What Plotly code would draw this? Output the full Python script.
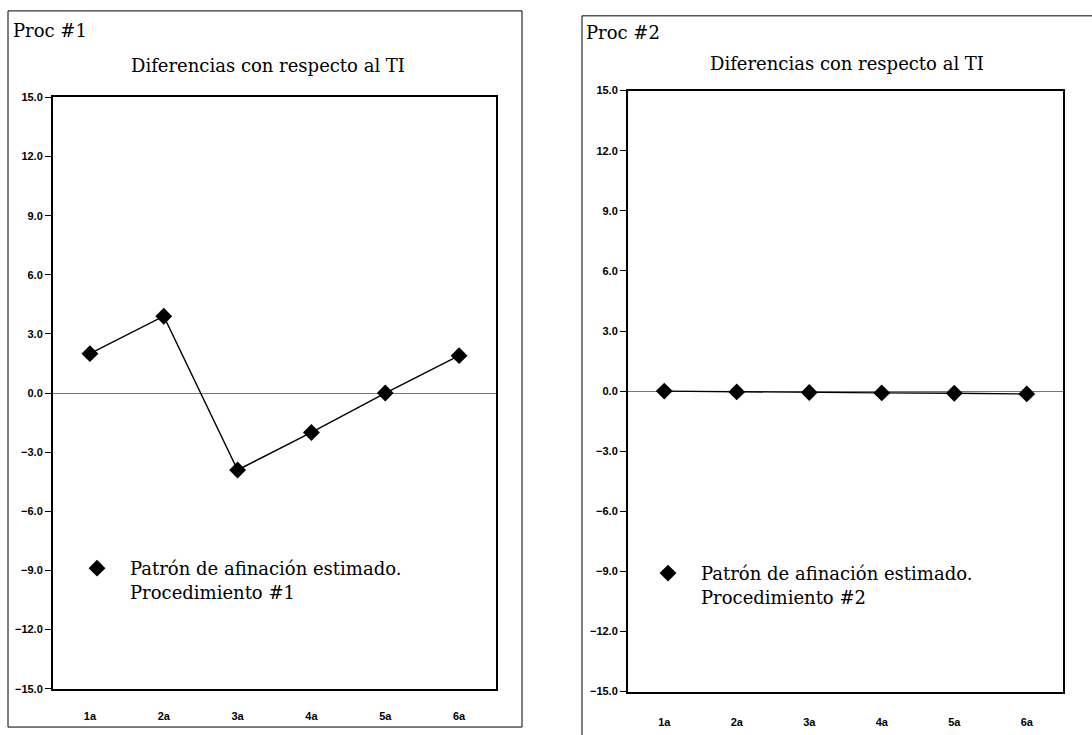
import plotly.graph_objects as go

categories = ["1a", "2a", "3a", "4a", "5a", "6a"]
proc1 = [2.0, 3.9, -3.9, -2.0, 0.0, 1.9]
proc2 = [0.0, -0.04, -0.07, -0.09, -0.11, -0.14]
ytick_vals = [15, 12, 9, 6, 3, 0, -3, -6, -9, -12, -15]
panel_titles = ["Proc #1", "Proc #2"]
chart_title = "Diferencias con respecto al TI"
legend_names = ["Patrón de afinación estimado.<br>Procedimiento #1",
                "Patrón de afinación estimado.<br>Procedimiento #2"]

W, H = 1092, 735
SERIF = "DejaVu Serif"
SANS = "Liberation Sans"

fig = go.Figure()

def px(x):
    return x / W

def py(y):
    return 1 - y / H

# Panel 1 traces
fig.add_trace(go.Scatter(x=categories, y=proc1, mode="lines", line=dict(color="black", width=1.4),
                         showlegend=False, xaxis="x", yaxis="y", hoverinfo="skip"))
fig.add_trace(go.Scatter(x=categories, y=proc1, mode="markers", name=legend_names[0],
                         marker=dict(symbol="diamond", size=13, color="black"),
                         xaxis="x", yaxis="y", legend="legend"))
# Panel 2 traces
fig.add_trace(go.Scatter(x=categories, y=proc2, mode="lines", line=dict(color="black", width=1.4),
                         showlegend=False, xaxis="x2", yaxis="y2", hoverinfo="skip"))
fig.add_trace(go.Scatter(x=categories, y=proc2, mode="markers", name=legend_names[1],
                         marker=dict(symbol="diamond", size=13, color="black"),
                         xaxis="x2", yaxis="y2", legend="legend2"))

def yaxis_cfg(top, bottom, anchor):
    return dict(domain=[py(bottom), py(top)], range=[-15, 15], anchor=anchor,
                tickvals=ytick_vals, tickformat=".1f",
                ticks="outside", ticklen=6, tickcolor="black", tickwidth=1,
                showline=True, linecolor="black", linewidth=2, mirror=True,
                showgrid=False, zeroline=True, zerolinecolor="#777777", zerolinewidth=1,
                tickfont=dict(family=SANS, size=11, color="black", weight="bold"))

def xaxis_cfg(left, right, anchor, standoff):
    return dict(domain=[px(left), px(right)], range=[-0.5, 5.5], anchor=anchor,
                type="category", categoryorder="array", categoryarray=categories,
                showline=True, linecolor="black", linewidth=2, mirror=True,
                showgrid=False, ticks="", ticklabelstandoff=standoff,
                tickfont=dict(family=SANS, size=11, color="black", weight="bold"))

legend_font = dict(family=SERIF, size=18, color="black")

fig.update_layout(
    width=W, height=H,
    margin=dict(l=0, r=0, t=0, b=0),
    paper_bgcolor="white", plot_bgcolor="white",
    xaxis=xaxis_cfg(53, 496, "y", 16),
    yaxis=yaxis_cfg(93, 694, "x"),
    xaxis2=xaxis_cfg(628, 1063, "y2", 19),
    yaxis2=yaxis_cfg(86, 697, "x2"),
    legend=dict(x=px(64), y=py(553), xanchor="left", yanchor="top",
                font=legend_font, bgcolor="rgba(0,0,0,0)", valign="top", itemwidth=56),
    legend2=dict(x=px(635), y=py(558), xanchor="left", yanchor="top",
                 font=legend_font, bgcolor="rgba(0,0,0,0)", valign="top", itemwidth=56),
    showlegend=True,
)

# Outer panel borders
fig.add_shape(type="rect", xref="paper", yref="paper",
              x0=px(8), x1=px(522), y0=py(733), y1=py(5),
              line=dict(color="black", width=1))
fig.add_shape(type="rect", xref="paper", yref="paper",
              x0=px(582), x1=px(1110), y0=py(780), y1=py(10),
              line=dict(color="black", width=1))

title_font = dict(family=SERIF, size=18, color="black")
# Panel titles and chart titles
fig.add_annotation(x=px(11), y=py(25), xref="paper", yref="paper", text=panel_titles[0],
                   showarrow=False, xanchor="left", yanchor="middle", font=title_font)
fig.add_annotation(x=px(584), y=py(27), xref="paper", yref="paper", text=panel_titles[1],
                   showarrow=False, xanchor="left", yanchor="middle", font=title_font)
fig.add_annotation(x=px(268), y=py(60), xref="paper", yref="paper", text=chart_title,
                   showarrow=False, xanchor="center", yanchor="middle", font=title_font)
fig.add_annotation(x=px(847), y=py(58), xref="paper", yref="paper", text=chart_title,
                   showarrow=False, xanchor="center", yanchor="middle", font=title_font)

fig.write_html("out.html", config={"displayModeBar": False},
               post_script="document.body.style.margin='0';document.body.style.overflow='hidden';")
